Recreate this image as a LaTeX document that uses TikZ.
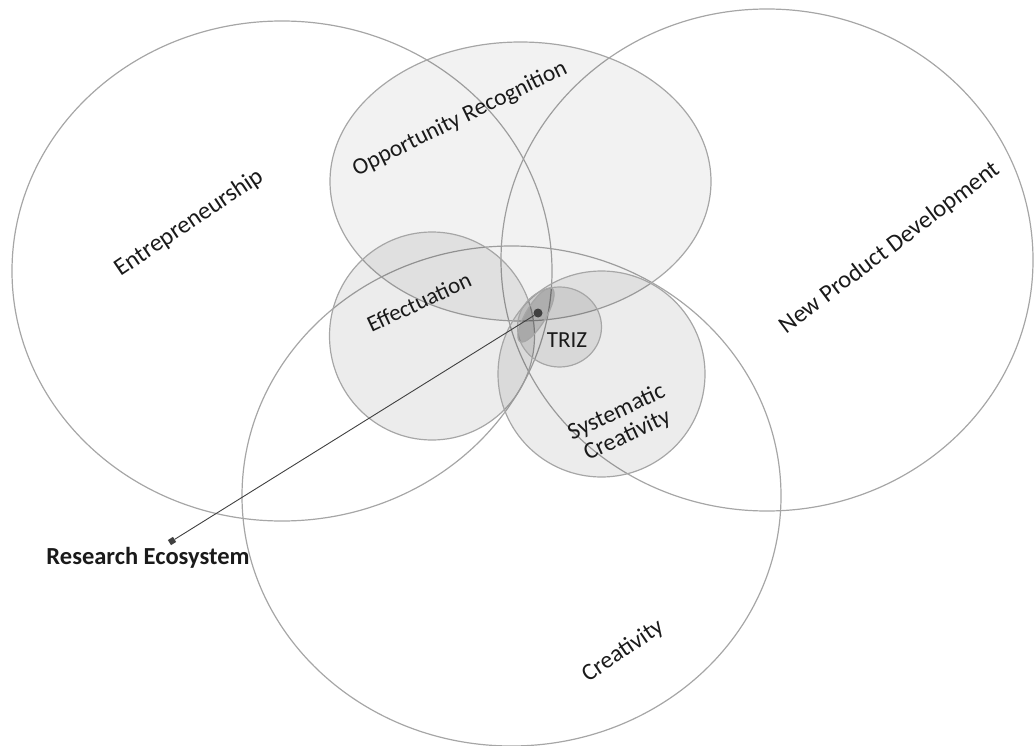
\documentclass[tikz,border=0pt]{standalone}
\usepackage{fontspec}
\setmainfont{Carlito}
\usetikzlibrary{shapes.geometric}
\definecolor{rim}{HTML}{A6A6A6}
\definecolor{ink}{HTML}{1A1A1A}
\definecolor{pin}{HTML}{404040}
\begin{document}
\begin{tikzpicture}[x=1pt, y=-1pt,
  set/.style={draw=rim, line width=1.2pt},
  shade1/.style={set, fill=black, fill opacity=0.05},
  shade2/.style={set, fill=black, fill opacity=0.075},
  shade3/.style={set, fill=black, fill opacity=0.085},
  core/.style={set, fill=black, fill opacity=0.15},
  lbl/.style={text=ink, inner sep=0pt, font=\fontsize{24}{27}\selectfont},
  conn/.style={draw=pin, line width=0.9pt}]
  \useasboundingbox (0,0) rectangle (1035,746);
  % large fields
  \draw[set] (282,271) ellipse [x radius=270pt, y radius=250pt];
  \draw[set] (767,260) ellipse [x radius=266pt, y radius=251pt];
  \draw[set] (511.5,496) ellipse [x radius=269.5pt, y radius=250pt];
  % shaded sub-fields
  \draw[shade1] (520.5,181.5) ellipse [x radius=190.5pt, y radius=139.5pt];
  \draw[shade2] (432,336) ellipse [x radius=102.5pt, y radius=104pt];
  \draw[shade2] (601.5,374) ellipse [x radius=103.5pt, y radius=103pt];
  \draw[shade3] (559.5,327) ellipse [x radius=42pt, y radius=40pt];
  \draw[core, rotate around={59:(536,315)}] (536,315) ellipse [x radius=31pt, y radius=10pt];
  % labels
  \node[lbl, rotate=34, font=\fontsize{24.5}{27}\selectfont] (entlbl) at (189,223) {Entrepreneurship};
  \node[lbl, rotate=26, font=\fontsize{23.5}{27}\selectfont] (orlbl) at (460,119) {Opportunity Recognition};
  \node[lbl, rotate=37, font=\fontsize{24.5}{27}\selectfont] (npdlbl) at (890,248) {New Product Development};
  \node[lbl, rotate=25, font=\fontsize{23}{26}\selectfont] (efflbl) at (419,302) {Effectuation};
  \node[lbl, font=\fontsize{23}{26}\selectfont] (trizlbl) at (567,340) {TRIZ};
  \node[lbl, rotate=25, align=center, font=\fontsize{24}{25.5}\selectfont] (sclbl) at (622,424) {Systematic\\Creativity};
  \node[lbl, rotate=34] (crelbl) at (623,651) {Creativity};
  % research ecosystem pointer
  \node[circle, fill=pin, inner sep=0pt, minimum size=9pt] (dot) at (538,313) {};
  \node[rectangle, fill=pin, inner sep=0pt, minimum size=6pt, rotate=32] (marker) at (172,541) {};
  \draw[conn] (dot) -- (marker);
  \node[lbl, font=\fontsize{24.5}{27}\selectfont\bfseries] (reslbl) at (148,558) {Research Ecosystem};
\end{tikzpicture}
\end{document}
